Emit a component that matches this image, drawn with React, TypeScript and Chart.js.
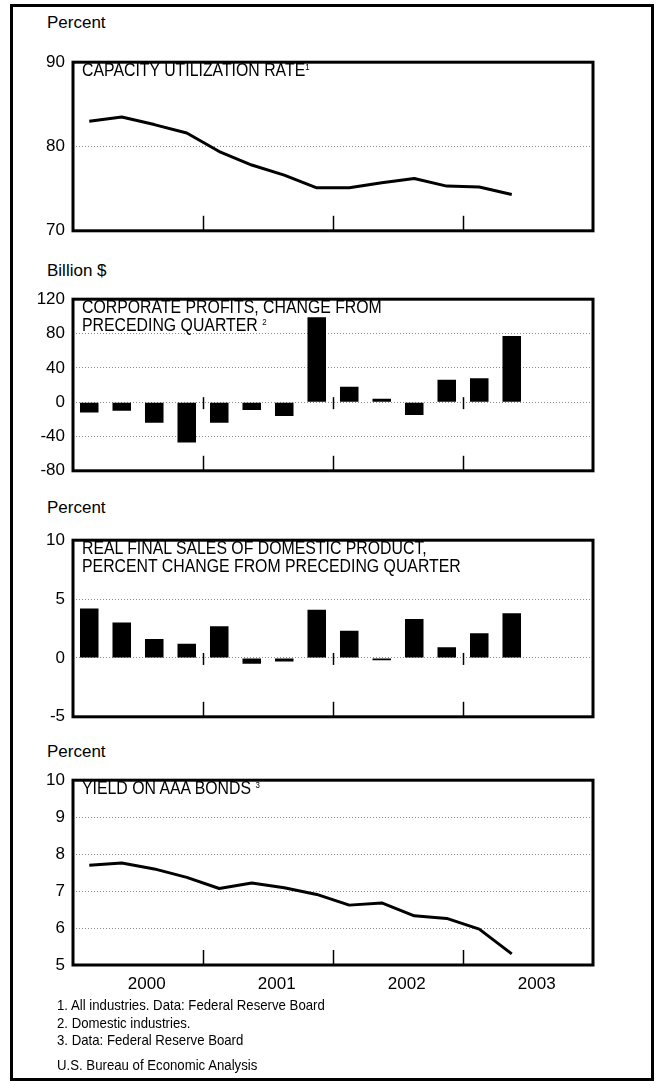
import React, { useEffect, useRef } from "react";
import { Chart, registerables } from "chart.js";

Chart.register(...registerables);

// ---- Data ----
const quarters = [
  "2000 Q1", "2000 Q2", "2000 Q3", "2000 Q4",
  "2001 Q1", "2001 Q2", "2001 Q3", "2001 Q4",
  "2002 Q1", "2002 Q2", "2002 Q3", "2002 Q4",
  "2003 Q1", "2003 Q2", "2003 Q3", "2003 Q4",
];
const years = ["2000", "2001", "2002", "2003"];

const capacityUtilization = [83.0, 83.5, 82.6, 81.6, 79.4, 77.8, 76.6, 75.1, 75.1, 75.7, 76.2, 75.3, 75.2, 74.3];
const corporateProfitsChange = [-12, -10, -24, -47, -24, -9, -16, 99, 18, 4, -15, 26, 28, 77];
const realFinalSalesChange = [4.2, 3.0, 1.6, 1.2, 2.7, -0.5, -0.3, 4.1, 2.3, -0.2, 3.3, 0.9, 2.1, 3.8];
const aaaBondYield = [7.70, 7.76, 7.60, 7.37, 7.07, 7.22, 7.09, 6.91, 6.62, 6.68, 6.33, 6.26, 5.97, 5.30];

const capacityTicks = [70, 80, 90];
const profitsTicks = [-80, -40, 0, 40, 80, 120];
const salesTicks = [-5, 0, 5, 10];
const yieldTicks = [5, 6, 7, 8, 9, 10];

const FONT = "'Liberation Sans', Arial, Helvetica, sans-serif";

Chart.defaults.font.family = FONT;
Chart.defaults.color = "#000";

const framePlugin = {
  id: "frame",
  afterDatasetsDraw(chart: any, _args: any, opts: any) {
    const { ctx, chartArea: a, scales } = chart;
    const x = scales.x;
    const y = scales.y;
    ctx.save();
    ctx.strokeStyle = "#000";
    ctx.lineWidth = 1.5;
    for (const b of [4, 8, 12]) {
      const px = Math.round((x.getPixelForValue(b - 1) + x.getPixelForValue(b)) / 2) + 0.5;
      ctx.beginPath();
      ctx.moveTo(px, a.bottom);
      ctx.lineTo(px, a.bottom - 15);
      ctx.stroke();
      if (opts && opts.zeroTicks) {
        const zy = y.getPixelForValue(0);
        ctx.beginPath();
        ctx.moveTo(px, zy - 5);
        ctx.lineTo(px, zy + 7);
        ctx.stroke();
      }
    }
    ctx.lineWidth = 3;
    ctx.strokeRect(a.left, a.top, a.right - a.left, a.bottom - a.top);
    ctx.restore();
  },
};

type PanelCfg = {
  kind: "line" | "bar";
  values: number[];
  ticks: number[];
  boxTop: number;
  boxHeight: number;
  zeroTicks: boolean;
  showYears: boolean;
};

const CANVAS_LEFT = 20;
const CANVAS_WIDTH = 585;
const Y_AXIS_W = 53;
const PAD_TOP = 12;
const PAD_BOTTOM = 12;
const X_AXIS_H = 34;

function Panel({ cfg }: { cfg: PanelCfg }) {
  const ref = useRef<HTMLCanvasElement>(null);
  const height = cfg.boxHeight + PAD_TOP + (cfg.showYears ? X_AXIS_H : PAD_BOTTOM);

  useEffect(() => {
    if (!ref.current) return;
    const min = cfg.ticks[0];
    const max = cfg.ticks[cfg.ticks.length - 1];
    const dataset: any =
      cfg.kind === "line"
        ? {
            data: cfg.values,
            borderColor: "#000",
            borderWidth: 3,
            pointRadius: 0,
            tension: 0,
            borderJoinStyle: "round",
            fill: false,
          }
        : {
            data: cfg.values,
            backgroundColor: "#000",
            borderWidth: 0,
            barPercentage: 0.57,
            categoryPercentage: 1,
          };
    const chart = new Chart(ref.current, {
      type: cfg.kind,
      data: { labels: quarters, datasets: [dataset] },
      plugins: [framePlugin],
      options: {
        animation: false,
        responsive: false,
        layout: {
          padding: {
            top: PAD_TOP,
            bottom: cfg.showYears ? 0 : PAD_BOTTOM,
            left: 0,
            right: CANVAS_WIDTH - Y_AXIS_W - 520,
          },
        },
        plugins: {
          legend: { display: false },
          tooltip: { enabled: false },
          frame: { zeroTicks: cfg.zeroTicks },
        } as any,
        scales: {
          x: {
            type: "category",
            offset: true,
            display: cfg.showYears,
            grid: { display: false, drawTicks: false },
            border: { display: false },
            afterFit: (s: any) => {
              if (cfg.showYears) s.height = X_AXIS_H;
            },
            ticks: {
              autoSkip: false,
              maxRotation: 0,
              minRotation: 0,
              padding: 9,
              labelOffset: 25,
              font: { size: 17, family: FONT },
              color: "#000",
              callback: (_v: any, i: number) => (i % 4 === 1 ? years[(i - 1) / 4] : ""),
            },
          },
          y: {
            type: "linear",
            min,
            max,
            afterFit: (s: any) => {
              s.width = Y_AXIS_W;
            },
            afterBuildTicks: (s: any) => {
              s.ticks = cfg.ticks.map((v) => ({ value: v }));
            },
            grid: {
              drawTicks: false,
              lineWidth: 1,
              color: (c: any) =>
                c.tick && c.tick.value > min && c.tick.value < max ? "#8a8a8a" : "rgba(0,0,0,0)",
            },
            border: { display: false, dash: [1, 2] },
            ticks: {
              padding: 8,
              font: { size: 17, family: FONT },
              color: "#000",
            },
          },
        },
      } as any,
    });
    return () => chart.destroy();
  }, []);

  return (
    <canvas
      ref={ref}
      width={CANVAS_WIDTH}
      height={height}
      style={{
        position: "absolute",
        left: CANVAS_LEFT,
        top: cfg.boxTop - PAD_TOP,
        width: CANVAS_WIDTH,
        height,
      }}
    />
  );
}

const supStyle: React.CSSProperties = { fontSize: 9, verticalAlign: "top", lineHeight: "12px" };

const panels: { cfg: PanelCfg; unit: string; unitY: number; title: React.ReactNode }[] = [
  {
    cfg: { kind: "line", values: capacityUtilization, ticks: capacityTicks, boxTop: 56, boxHeight: 181, zeroTicks: false, showYears: false },
    unit: "Percent",
    unitY: 13,
    title: (
      <>
        CAPACITY UTILIZATION RATE<sup style={supStyle}>1</sup>
      </>
    ),
  },
  {
    cfg: { kind: "bar", values: corporateProfitsChange, ticks: profitsTicks, boxTop: 293, boxHeight: 184, zeroTicks: true, showYears: false },
    unit: "Billion $",
    unitY: 261,
    title: (
      <>
        CORPORATE PROFITS, CHANGE FROM
        <br />
        PRECEDING QUARTER <sup style={supStyle}>2</sup>
      </>
    ),
  },
  {
    cfg: { kind: "bar", values: realFinalSalesChange, ticks: salesTicks, boxTop: 534, boxHeight: 189, zeroTicks: true, showYears: false },
    unit: "Percent",
    unitY: 498,
    title: (
      <>
        REAL FINAL SALES OF DOMESTIC PRODUCT,
        <br />
        PERCENT CHANGE FROM PRECEDING QUARTER
      </>
    ),
  },
  {
    cfg: { kind: "line", values: aaaBondYield, ticks: yieldTicks, boxTop: 774, boxHeight: 191, zeroTicks: false, showYears: true },
    unit: "Percent",
    unitY: 742,
    title: (
      <>
        YIELD ON AAA BONDS <sup style={supStyle}>3</sup>
      </>
    ),
  },
];

const footnotes = [
  "1. All industries. Data: Federal Reserve Board",
  "2. Domestic industries.",
  "3. Data: Federal Reserve Board",
];
const source = "U.S. Bureau of Economic Analysis";

const condensed = (size: number): React.CSSProperties => ({
  fontFamily: FONT,
  fontSize: size,
  transform: "scaleX(0.88)",
  transformOrigin: "left top",
  whiteSpace: "nowrap",
});

export default function App() {
  return (
    <div style={{ position: "absolute", left: 0, top: 0, width: 657, height: 1082, background: "#fff", overflow: "hidden" }}>
      <div
        style={{
          position: "absolute",
          left: 10,
          top: 4,
          width: 644,
          height: 1077,
          border: "3px solid #000",
          boxSizing: "border-box",
        }}
      />
      {panels.map((p, i) => (
        <React.Fragment key={i}>
          <div style={{ position: "absolute", left: 47, top: p.unitY, fontFamily: FONT, fontSize: 17, lineHeight: "19px", whiteSpace: "nowrap" }}>
            {p.unit}
          </div>
          <Panel cfg={p.cfg} />
          <div
            style={{
              position: "absolute",
              left: 82,
              top: p.cfg.boxTop + 5,
              lineHeight: "18px",
              ...condensed(18),
            }}
          >
            {p.title}
          </div>
        </React.Fragment>
      ))}
      <div style={{ position: "absolute", left: 57, top: 996, lineHeight: "17.5px", ...condensed(15) }}>
        {footnotes.map((f, i) => (
          <div key={i}>{f}</div>
        ))}
        <div style={{ marginTop: 7 }}>{source}</div>
      </div>
    </div>
  );
}
